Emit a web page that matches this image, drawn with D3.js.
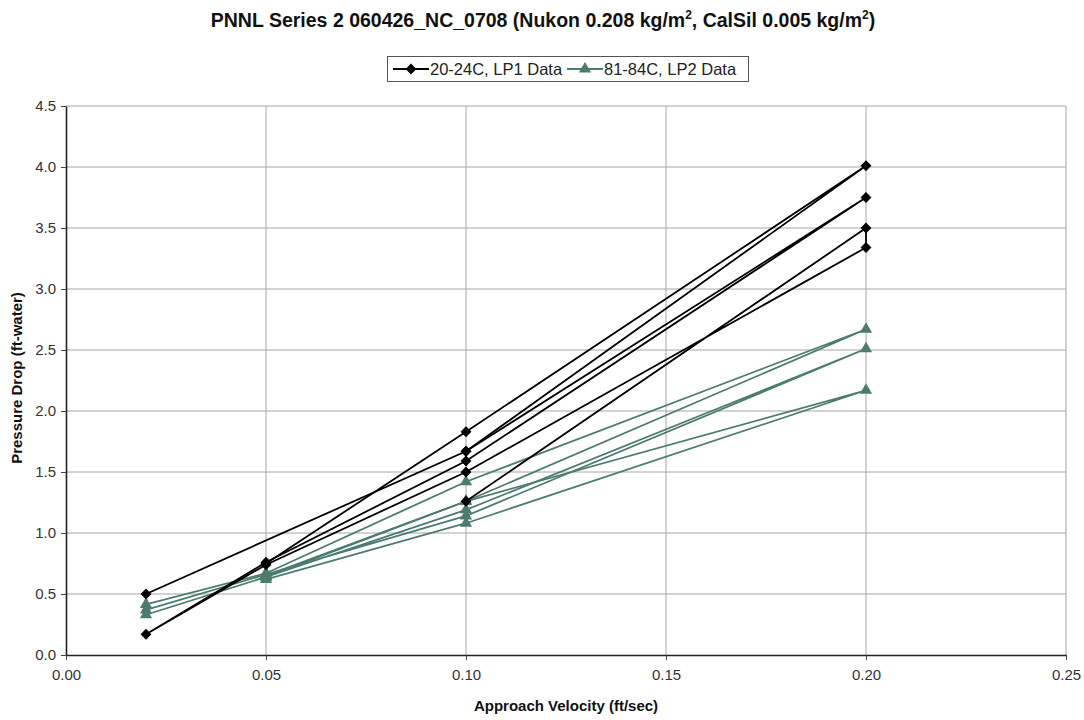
<!DOCTYPE html>
<html>
<head>
<meta charset="utf-8">
<script src="https://cdn.jsdelivr.net/npm/d3@7"></script>
<style>
  html, body { margin: 0; padding: 0; background: #fff; }
  svg { display: block; font-family: "Liberation Sans", Arial, sans-serif; }
</style>
</head>
<body>
<svg id="chart" width="1084" height="720"></svg>
<script>
// ---- data ----
const xTickValues = [0, 0.05, 0.10, 0.15, 0.20, 0.25];
const yTickValues = [0, 0.5, 1.0, 1.5, 2.0, 2.5, 3.0, 3.5, 4.0, 4.5];

const seriesNames = ["20-24C, LP1 Data", "81-84C, LP2 Data"];

// LP1 (20-24C) runs, plotted in measurement order
const lp1RunAVelocity = [0.10, 0.20, 0.20, 0.10, 0.05, 0.02, 0.05, 0.10, 0.20, 0.10, 0.02];
const lp1RunAPressure = [1.26, 3.50, 3.34, 1.50, 0.74, 0.17, 0.76, 1.59, 3.75, 1.67, 0.50];
const lp1RunBVelocity = [0.05, 0.10, 0.20, 0.10];
const lp1RunBPressure = [0.75, 1.83, 4.01, 1.67];

// LP2 (81-84C) runs
const lp2Run1Velocity = [0.02, 0.05, 0.10, 0.20, 0.10, 0.05];
const lp2Run1Pressure = [0.415, 0.67, 1.42, 2.67, 1.26, 0.65];
const lp2Run2Velocity = [0.02, 0.05, 0.10, 0.20, 0.10, 0.05];
const lp2Run2Pressure = [0.37, 0.66, 1.14, 2.51, 1.19, 0.64];
const lp2Run3Velocity = [0.02, 0.05, 0.10, 0.20, 0.10, 0.05];
const lp2Run3Pressure = [0.33, 0.64, 1.26, 2.17, 1.08, 0.62];

// ---- build ----
const zip = (vs, ps) => vs.map((v, i) => ({ v, p: ps[i] }));
const lp1Runs = [zip(lp1RunAVelocity, lp1RunAPressure), zip(lp1RunBVelocity, lp1RunBPressure)];
const lp2Runs = [zip(lp2Run1Velocity, lp2Run1Pressure), zip(lp2Run2Velocity, lp2Run2Pressure), zip(lp2Run3Velocity, lp2Run3Pressure)];

const BLACK = "#000000";
const TEAL = "#4c7b70";
const FONT = "'Liberation Sans', Arial, sans-serif";

const svg = d3.select("#chart");
const plot = { left: 66, right: 1066, top: 106, bottom: 655 };

const x = d3.scaleLinear().domain([0, 0.25]).range([plot.left, plot.right]);
const y = d3.scaleLinear().domain([0, 4.5]).range([plot.bottom, plot.top]);

// grid
const grid = svg.append("g");
grid.selectAll("line.h").data(yTickValues.filter(d => d > 0)).join("line")
  .attr("x1", plot.left).attr("x2", plot.right)
  .attr("y1", d => y(d)).attr("y2", d => y(d))
  .attr("stroke", "#a4a4ae").attr("stroke-width", 1);
grid.selectAll("line.v").data(xTickValues.filter(d => d > 0)).join("line")
  .attr("x1", d => x(d)).attr("x2", d => x(d))
  .attr("y1", plot.top).attr("y2", plot.bottom)
  .attr("stroke", "#a4a4ae").attr("stroke-width", 1);

// axes
const xAxis = d3.axisBottom(x).tickValues(xTickValues).tickFormat(d3.format(".2f")).tickSize(5).tickSizeOuter(0);
const yAxis = d3.axisLeft(y).tickValues(yTickValues).tickFormat(d3.format(".1f")).tickSize(5).tickSizeOuter(0);

const gx = svg.append("g").attr("transform", `translate(0,${plot.bottom})`).call(xAxis);
const gy = svg.append("g").attr("transform", `translate(${plot.left},0)`).call(yAxis);
[gx, gy].forEach(g => {
  g.select(".domain").attr("stroke", "#222").attr("stroke-width", 1.6);
  g.selectAll(".tick line").attr("stroke", "#444");
  g.selectAll(".tick text").attr("fill", "#333").style("font-size", "15px")
    .style("font-family", FONT);
});
gx.selectAll(".tick text").attr("dy", "1.1em");
gy.selectAll(".tick text").attr("dx", "-2px");

// lines
const line = d3.line().x(d => x(d.v)).y(d => y(d.p));
const drawGroup = (runs, color, marker) => {
  const g = svg.append("g");
  g.selectAll("path.run").data(runs).join("path")
    .attr("d", line).attr("fill", "none")
    .attr("stroke", color).attr("stroke-width", 1.8);
  const pts = runs.flat();
  g.selectAll("path.mk").data(pts).join("path")
    .attr("transform", d => `translate(${x(d.v)},${y(d.p)})`)
    .attr("d", marker).attr("fill", color);
};
const diamond = d3.symbol().type(d3.symbolDiamond2).size(75)();
const triangle = d3.symbol().type(d3.symbolTriangle).size(65)();
drawGroup(lp2Runs, TEAL, triangle);
drawGroup(lp1Runs, BLACK, diamond);

// title
const title = svg.append("text").attr("x", 543).attr("y", 27)
  .attr("text-anchor", "middle").attr("font-weight", "bold")
  .style("font-size", "19.5px").attr("fill", "#111");
title.append("tspan").text("PNNL Series 2 060426_NC_0708 (Nukon 0.208 kg/m");
title.append("tspan").text("2").attr("dy", -8).style("font-size", "12px");
title.append("tspan").text(", CalSil 0.005 kg/m").attr("dy", 8);
title.append("tspan").text("2").attr("dy", -8).style("font-size", "12px");
title.append("tspan").text(")").attr("dy", 8);

// legend
const legend = svg.append("g");
legend.append("rect").attr("x", 387.5).attr("y", 56.5).attr("width", 361).attr("height", 25)
  .attr("fill", "#fff").attr("stroke", "#555").attr("stroke-width", 1);
const legendItems = [
  { name: seriesNames[0], color: BLACK, marker: diamond, x0: 393 },
  { name: seriesNames[1], color: TEAL, marker: triangle, x0: 567 }
];
legendItems.forEach(it => {
  legend.append("line").attr("x1", it.x0).attr("x2", it.x0 + 36).attr("y1", 69).attr("y2", 69)
    .attr("stroke", it.color).attr("stroke-width", 1.8);
  legend.append("path").attr("d", it.marker).attr("fill", it.color)
    .attr("transform", `translate(${it.x0 + 18},69)`);
  legend.append("text").attr("x", it.x0 + 37).attr("y", 75).text(it.name)
    .style("font-size", "16.5px").attr("fill", "#222");
});

// axis titles
svg.append("text").attr("x", 566).attr("y", 711).attr("text-anchor", "middle")
  .attr("font-weight", "bold").style("font-size", "15px").attr("fill", "#111")
  .text("Approach Velocity (ft/sec)");
svg.append("text").attr("transform", "translate(22,378) rotate(-90)").attr("text-anchor", "middle")
  .attr("font-weight", "bold").style("font-size", "15px").attr("fill", "#111")
  .text("Pressure Drop (ft-water)");
</script>
</body>
</html>
